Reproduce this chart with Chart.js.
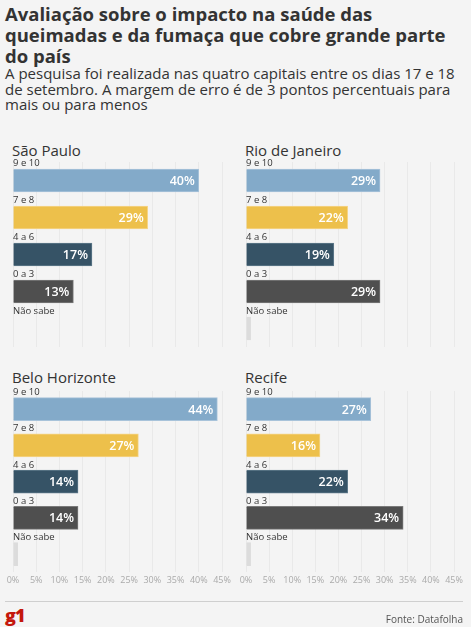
<!DOCTYPE html>
<html>
<head>
<meta charset="utf-8">
<script src="https://cdn.jsdelivr.net/npm/chart.js@4"></script>
<style>
  body { margin:0; background:#f4f4f4; font-family:"Open Sans", sans-serif; color:#333; }
  #page { position:relative; width:471px; height:627px; overflow:hidden; }
  h1 { position:absolute; left:5px; top:3px; margin:0; width:462px; font-size:18.5px; line-height:21px; font-weight:700; color:#333; }
  .sub { position:absolute; left:5px; top:66px; margin:0; width:462px; font-size:15px; line-height:15.5px; color:#333; }
  .ptitle { position:absolute; font-size:15px; color:#333; }
  .box { position:absolute; }
  #rule { position:absolute; left:5px; top:601px; width:458px; height:1px; background:#cfcfcf; }
  #logo { position:absolute; left:5px; top:603px; font-size:18px; font-weight:800; color:#c4170c; letter-spacing:-1px; }
  #src { position:absolute; right:8px; top:612px; font-size:10px; color:#555; }
</style>
</head>
<body>
<div id="page">
  <h1>Avaliação sobre o impacto na saúde das queimadas e da fumaça que cobre grande parte do país</h1>
  <p class="sub">A pesquisa foi realizada nas quatro capitais entre os dias 17 e 18 de setembro. A margem de erro é de 3 pontos percentuais para mais ou para menos</p>

  <div class="ptitle" style="left:12px;top:140px">São Paulo</div>
  <div class="ptitle" style="left:245px;top:140px">Rio de Janeiro</div>
  <div class="ptitle" style="left:12px;top:367px">Belo Horizonte</div>
  <div class="ptitle" style="left:245px;top:367px">Recife</div>

  <div class="box" style="left:0;top:150px;width:235px;height:197px"><canvas id="c-sp"></canvas></div>
  <div class="box" style="left:234px;top:150px;width:237px;height:197px"><canvas id="c-rj"></canvas></div>
  <div class="box" style="left:0;top:379px;width:235px;height:210px"><canvas id="c-bh"></canvas></div>
  <div class="box" style="left:234px;top:379px;width:237px;height:210px"><canvas id="c-re"></canvas></div>

  <div id="rule"></div>
  <div id="logo">g1</div>
  <div id="src">Fonte: Datafolha</div>
</div>
<script>
const categories = ['9 e 10', '7 e 8', '4 a 6', '0 a 3', 'Não sabe'];
const saoPaulo = [40, 29, 17, 13, 0];
const rioDeJaneiro = [29, 22, 19, 29, 1];
const beloHorizonte = [44, 27, 14, 14, 1];
const recife = [27, 16, 22, 34, 1];
const xTicks = [0, 5, 10, 15, 20, 25, 30, 35, 40, 45];

const fills = ['#83aac9', '#edc04b', '#365366', '#4f4f4f', '#dcdcdc'];
const borders = ['#a8c3da', '#f4d58a', '#5f7a8b', '#7a7a7a', '#dcdcdc'];

const barLabels = {
  id: 'barLabels',
  afterDatasetsDraw(chart) {
    const ctx = chart.ctx;
    const meta = chart.getDatasetMeta(0);
    const data = chart.data.datasets[0].data;
    const left = chart.chartArea.left;
    ctx.save();
    meta.data.forEach((bar, i) => {
      const top = bar.y - bar.height / 2;
      ctx.font = '9.5px "Open Sans"';
      ctx.fillStyle = '#333';
      ctx.textAlign = 'left';
      ctx.textBaseline = 'bottom';
      ctx.fillText(chart.data.labels[i], left, top - 0.5);
      if (data[i] >= 5) {
        ctx.font = '600 12.5px "Open Sans"';
        ctx.fillStyle = '#fff';
        ctx.textAlign = 'right';
        ctx.textBaseline = 'middle';
        ctx.fillText(data[i] + '%', bar.x - 4, bar.y + 1);
      }
    });
    ctx.restore();
  }
};

function makeChart(id, values, padLeft, padRight, showTicks) {
  new Chart(document.getElementById(id), {
    type: 'bar',
    data: {
      labels: categories,
      datasets: [{
        data: values,
        backgroundColor: fills,
        borderColor: borders,
        borderWidth: 1,
        barThickness: 23
      }]
    },
    options: {
      indexAxis: 'y',
      responsive: true,
      maintainAspectRatio: false,
      animation: false,
      layout: { padding: { left: padLeft, right: padRight, top: 12, bottom: 0 } },
      plugins: { legend: { display: false }, tooltip: { enabled: false } },
      scales: {
        x: {
          min: 0,
          max: 45,
          afterBuildTicks: axis => { axis.ticks = xTicks.map(v => ({ value: v })); },
          grid: { color: '#e9e9e9', drawTicks: false },
          border: { display: false },
          ticks: {
            display: showTicks,
            autoSkip: false,
            minRotation: 0,
            maxRotation: 0,
            padding: 3,
            color: '#aaa',
            font: { family: 'Open Sans', size: 9 },
            callback: v => v + '%'
          }
        },
        y: { display: false }
      }
    },
    plugins: [barLabels]
  });
}

makeChart('c-sp', saoPaulo, 13, 13, false);
makeChart('c-rj', rioDeJaneiro, 12, 17, false);
makeChart('c-bh', beloHorizonte, 13, 13, true);
makeChart('c-re', recife, 12, 17, true);
</script>
</body>
</html>
